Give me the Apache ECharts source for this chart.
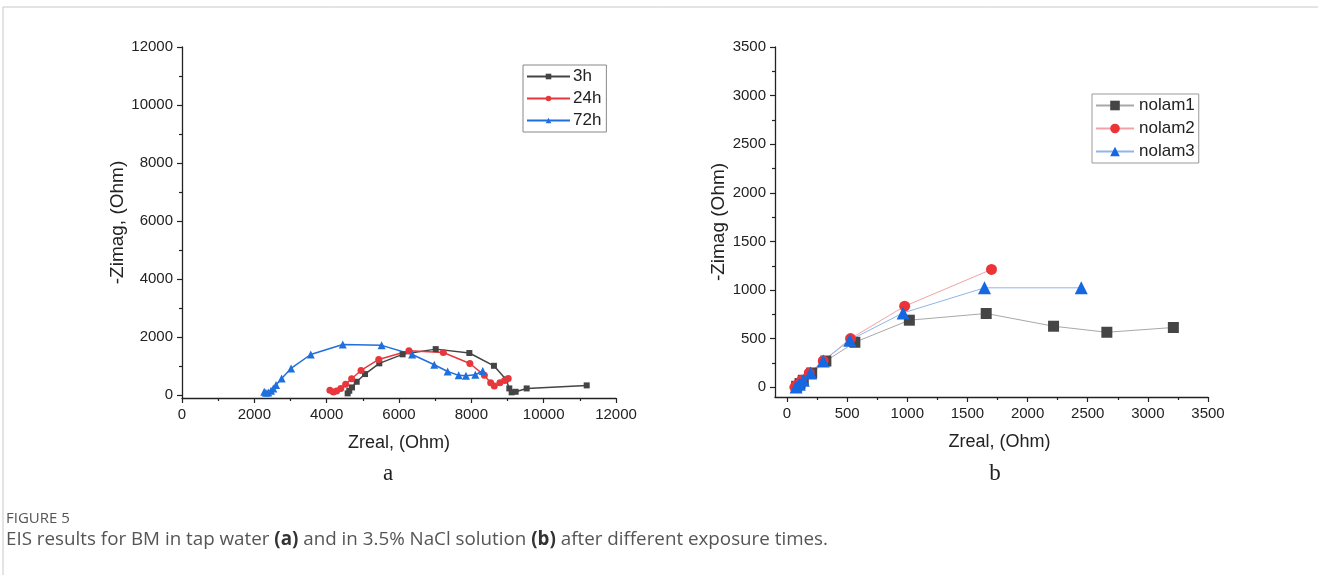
<!DOCTYPE html>
<html>
<head>
<meta charset="utf-8">
<script src="https://cdn.jsdelivr.net/npm/echarts@6/dist/echarts.min.js"></script>
<style>
  html, body { margin: 0; padding: 0; background: #fff; }
  #main { width: 1318px; height: 575px; }
</style>
</head>
<body>
<div id="main"></div>
<script>
// panel a - tap water
const seriesA = ['3h', '24h', '72h'];
const a3hX = [4580, 4625, 4700, 4830, 5060, 5455, 6100, 7015, 7945, 8625, 8960, 9050, 9115, 9225, 9530, 11190];
const a3hY = [60, 150, 265, 460, 725, 1095, 1405, 1585, 1450, 1010, 540, 230, 95, 115, 230, 335];
const a24hX = [4090, 4185, 4275, 4390, 4525, 4690, 4950, 5440, 6275, 7225, 7960, 8360, 8535, 8635, 8790, 8920, 9020];
const a24hY = [170, 105, 140, 230, 370, 565, 850, 1230, 1530, 1470, 1090, 680, 425, 310, 425, 505, 575];
const a72hX = [2275, 2320, 2385, 2460, 2525, 2600, 2755, 3015, 3560, 4445, 5520, 6365, 6975, 7345, 7650, 7850, 8110, 8315];
const a72hY = [115, 80, 90, 150, 230, 345, 575, 920, 1400, 1745, 1715, 1400, 1045, 815, 680, 665, 700, 830];
const ticksA = [0, 2000, 4000, 6000, 8000, 10000, 12000];
const minorA = [1000, 3000, 5000, 7000, 9000, 11000];

// panel b - 3.5% NaCl
const seriesB = ['nolam1', 'nolam2', 'nolam3'];
const n1X = [80, 108, 135, 205, 323, 564, 1017, 1656, 2216, 2659, 3212];
const n1Y = [10, 38, 72, 147, 270, 463, 690, 759, 628, 566, 615];
const n2X = [65, 80, 122, 185, 301, 528, 978, 1700];
const n2Y = [0, 20, 72, 147, 271, 501, 834, 1212];
const n3X = [75, 102, 135, 196, 301, 522, 965, 1642, 2446];
const n3Y = [3, 31, 72, 147, 271, 484, 765, 1023, 1023];
const ticksB = [0, 500, 1000, 1500, 2000, 2500, 3000, 3500];
const minorB = [250, 750, 1250, 1750, 2250, 2750, 3250];

const FONT = 'Liberation Sans, Arial, sans-serif';

let eis = {
    zip:(xs, ys)=>xs.map((x, i)=>[x, ys[i]]),
    axis:(grid, pos, min, max, major, minor, isMinor, name, nameGap, nameSize, namePad)=>{
        let ax = {
            type: 'value', gridIndex: grid, position: pos, min: min, max: max,
            splitLine: {show: false},
            axisLine: {show: !isMinor, onZero: false, lineStyle: {color: '#222', width: 1.3}},
            axisTick: {show: true, inside: false, length: isMinor ? 3 : 5,
                customValues: isMinor ? minor : major,
                lineStyle: {color: '#222', width: 1.2}},
            axisLabel: {show: !isMinor, customValues: major, margin: 9,
                formatter: (v)=>String(v),
                color: '#222', fontSize: 15, fontFamily: FONT}
        };
        if (!isMinor) {
            ax.name = name;
            ax.nameLocation = 'middle';
            ax.nameGap = nameGap;
            ax.nameTextStyle = {color: '#222', fontSize: nameSize, fontFamily: FONT, padding: namePad || 0};
        }
        return ax;
    },//axis-----end
    line:(name, data, xi, yi, color, lineColor, symbol, size, width)=>({
        name: name, type: 'line', data: data, xAxisIndex: xi, yAxisIndex: yi,
        symbol: symbol, symbolSize: size, showSymbol: true, animation: false,
        itemStyle: {color: color, borderWidth: 0},
        lineStyle: {color: lineColor, width: width}
    }),//line-----end
    init:()=>{
        let myChart = echarts.init(document.getElementById('main'), null, {renderer: 'canvas'});
        let option = {
            backgroundColor: '#fff',
            animation: false,
            grid: [
                {left: 182, top: 47, width: 434, height: 351},
                {left: 775, top: 47, width: 433, height: 350}
            ],
            xAxis: [
                eis.axis(0, 'bottom', 0, 12000, ticksA, minorA, false, 'Zreal, (Ohm)', 36, 18),
                eis.axis(0, 'bottom', 0, 12000, ticksA, minorA, true),
                eis.axis(1, 'bottom', -100, 3500, ticksB, minorB, false, 'Zreal, (Ohm)', 36, 18, [0, 0, 0, 16]),
                eis.axis(1, 'bottom', -100, 3500, ticksB, minorB, true)
            ],
            yAxis: [
                eis.axis(0, 'left', -100, 12000, ticksA, minorA, false, '-Zimag, (Ohm)', 55, 19),
                eis.axis(0, 'left', -100, 12000, ticksA, minorA, true),
                eis.axis(1, 'left', -100, 3500, ticksB, minorB, false, '-Zimag (Ohm)', 47, 19),
                eis.axis(1, 'left', -100, 3500, ticksB, minorB, true)
            ],
            legend: [
                {
                    data: seriesA, orient: 'vertical', left: 523, top: 65,
                    itemWidth: 43, itemHeight: 7, itemGap: 5,
                    padding: [3, 5, 3, 3], borderColor: '#888', borderWidth: 1,
                    textStyle: {color: '#222', fontSize: 17, fontFamily: FONT, padding: [0, 0, 0, -2]}
                },
                {
                    data: seriesB, orient: 'vertical', left: 1092, top: 94,
                    itemWidth: 38, itemHeight: 12, itemGap: 6,
                    padding: [3, 4, 3, 3], borderColor: '#999', borderWidth: 1,
                    textStyle: {color: '#222', fontSize: 17, fontFamily: FONT}
                }
            ],
            series: [
                eis.line('3h', eis.zip(a3hX, a3hY), 0, 0, '#444', '#444', 'rect', 6, 1.5),
                eis.line('24h', eis.zip(a24hX, a24hY), 0, 0, '#e8373c', '#e8373c', 'circle', 7, 1.5),
                eis.line('72h', eis.zip(a72hX, a72hY), 0, 0, '#1f6fdc', '#1f6fdc', 'triangle', 8, 1.5),
                eis.line('nolam1', eis.zip(n1X, n1Y), 2, 2, '#454545', '#a8a8a8', 'rect', 11, 1),
                eis.line('nolam2', eis.zip(n2X, n2Y), 2, 2, '#ee3338', '#f2a3a5', 'circle', 11, 1),
                eis.line('nolam3', eis.zip(n3X, n3Y), 2, 2, '#1668e0', '#8fb6ea', 'triangle', 13, 1)
            ],
            graphic: [
                {type: 'line', shape: {x1: 3, y1: 7, x2: 1318, y2: 7}, style: {stroke: '#c8c8c8', lineWidth: 1}},
                {type: 'line', shape: {x1: 3, y1: 7, x2: 3, y2: 575}, style: {stroke: '#c8c8c8', lineWidth: 1}},
                {type: 'text', x: 388, y: 474, style: {text: 'a', fontSize: 23, fontFamily: 'Liberation Serif, serif',
                    fill: '#222', align: 'center', verticalAlign: 'middle'}},
                {type: 'text', x: 995, y: 474, style: {text: 'b', fontSize: 23, fontFamily: 'Liberation Serif, serif',
                    fill: '#222', align: 'center', verticalAlign: 'middle'}},
                {type: 'text', x: 6, y: 519, style: {text: 'FIGURE 5', fontSize: 15, fontFamily: 'Open Sans, sans-serif',
                    fill: '#555', verticalAlign: 'middle'}},
                {type: 'text', x: 6, y: 540, style: {
                    text: 'EIS results for BM in tap water {b|(a)} and in 3.5% NaCl solution {b|(b)} after different exposure times.',
                    fontSize: 18.8, fontFamily: 'Open Sans, sans-serif', fill: '#555', verticalAlign: 'middle',
                    rich: {b: {fontWeight: 'bold', fontSize: 18.8, fontFamily: 'Open Sans, sans-serif', fill: '#333'}}
                }}
            ]
        };
        myChart.setOption(option);
    }//init-----end
}

eis.init();
</script>
</body>
</html>
